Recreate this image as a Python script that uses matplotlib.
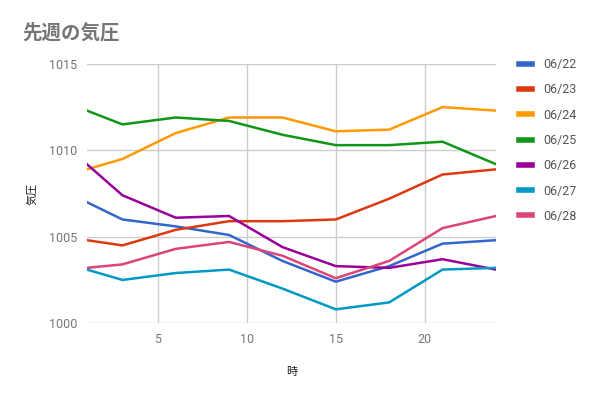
import matplotlib
matplotlib.use("Agg")
import matplotlib.pyplot as plt
from matplotlib.lines import Line2D

plt.rcParams['font.family'] = ['Roboto', 'Noto Sans CJK JP', 'DejaVu Sans']

hours = [1, 3, 6, 9, 12, 15, 18, 21, 24]
dates = ["06/22", "06/23", "06/24", "06/25", "06/26", "06/27", "06/28"]
p0622 = [1007.0, 1006.0, 1005.6, 1005.1, 1003.6, 1002.4, 1003.3, 1004.6, 1004.8]
p0623 = [1004.8, 1004.5, 1005.4, 1005.9, 1005.9, 1006.0, 1007.2, 1008.6, 1008.9]
p0624 = [1008.9, 1009.5, 1011.0, 1011.9, 1011.9, 1011.1, 1011.2, 1012.5, 1012.3]
p0625 = [1012.3, 1011.5, 1011.9, 1011.7, 1010.9, 1010.3, 1010.3, 1010.5, 1009.2]
p0626 = [1009.2, 1007.4, 1006.1, 1006.2, 1004.4, 1003.3, 1003.2, 1003.7, 1003.1]
p0627 = [1003.1, 1002.5, 1002.9, 1003.1, 1002.0, 1000.8, 1001.2, 1003.1, 1003.2]
p0628 = [1003.2, 1003.4, 1004.3, 1004.7, 1003.9, 1002.6, 1003.6, 1005.5, 1006.2]
series = [p0622, p0623, p0624, p0625, p0626, p0627, p0628]
colors = ["#3366cc", "#dc3912", "#ff9900", "#109618", "#990099", "#0099c6", "#dd4477"]

fig = plt.figure(figsize=(5.91, 3.97), dpi=100)
ax = fig.add_axes([0.147, 0.186, 0.692, 0.653])

for vals, c, lab in zip(series, colors, dates):
    ax.plot(hours, vals, color=c, lw=1.8, label=lab, solid_joinstyle='round')

ax.set_xlim(1, 24)
ax.set_ylim(1000, 1015)
ax.set_xticks([5, 10, 15, 20])
ax.set_yticks([1000, 1005, 1010, 1015])
ax.grid(True, color="#cccccc", lw=1)
ax.set_axisbelow(True)
for s in ax.spines.values():
    s.set_visible(False)
ax.tick_params(length=0, colors="#757575", labelsize=9, pad=7)

ax.set_xlabel("時", fontsize=8, color="#222222", labelpad=15, family=['Noto Sans CJK JP'])
ax.set_ylabel("気圧", fontsize=8, color="#222222", labelpad=8, family=['Noto Sans CJK JP'])

fig.text(22 / 591, 1 - 33 / 397, "先週の気圧", fontsize=14, fontweight='bold',
         color="#757575", va='center', ha='left', family=['Noto Sans CJK JP'])

handles = [Line2D([0], [0], color=c, lw=4) for c in colors]
leg = fig.legend(handles, dates, loc='upper left', bbox_to_anchor=(508 / 591, 1 - 47 / 397),
                 frameon=False, fontsize=9, handlelength=1.0, labelspacing=0.98,
                 handletextpad=0.9, labelcolor="#555555")

fig.savefig("out.png", dpi=100)
